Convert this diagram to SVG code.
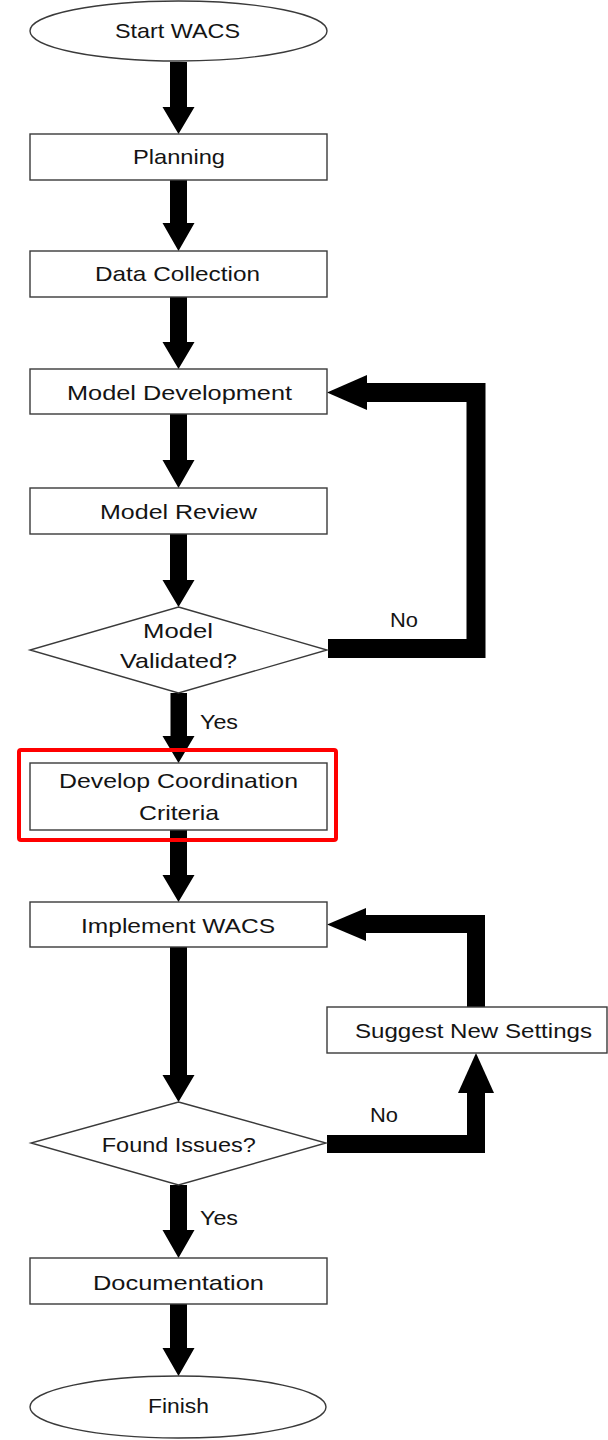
<svg xmlns="http://www.w3.org/2000/svg" width="608" height="1440" viewBox="0 0 608 1440">
<style>
.box{fill:#fff;stroke:#3a3a3a;stroke-width:1.4}
.t{font-family:"Liberation Sans",Arial,sans-serif;font-size:21px;fill:#141414;text-anchor:middle}
.l{font-family:"Liberation Sans",Arial,sans-serif;font-size:21px;fill:#141414}
.bar{fill:none;stroke:#000;stroke-linejoin:miter;stroke-linecap:butt}
.ah{fill:#000}
</style>
<rect width="608" height="1440" fill="#fff"/>
<g id="connectors">
<path class="ah" d="M170 62H187V107H194.5L178.5 134L162.5 107H170Z"/>
<path class="ah" d="M170 180H187V223H194.5L178.5 251L162.5 223H170Z"/>
<path class="ah" d="M170 297H187V342H194.5L178.5 369L162.5 342H170Z"/>
<path class="ah" d="M170 414H187V460H194.5L178.5 488L162.5 460H170Z"/>
<path class="ah" d="M170 534H187V580H194.5L178.5 607L162.5 580H170Z"/>
<path class="ah" d="M170.5 693H187V736H194.5L178.5 763L162.5 736H170.5Z"/>
<path class="ah" d="M170 830H187V875H194.5L178.5 902L162.5 875H170Z"/>
<path class="ah" d="M170 947H187V1075H194.5L178.5 1102L162.5 1075H170Z"/>
<path class="ah" d="M170 1185H187V1230H194.5L178.5 1258L162.5 1230H170Z"/>
<path class="ah" d="M170 1304H187V1348H194.5L178.5 1376L162.5 1348H170Z"/>
<path class="bar" stroke-width="19" d="M328 648.5H476V392.5H366"/>
<polygon class="ah" points="327,392.5 367,375 367,410"/>
<path class="bar" stroke-width="18" d="M327 1144H476V1092"/>
<polygon class="ah" points="476,1053 458,1093 494,1093"/>
<path class="bar" stroke-width="18" d="M476 1007V924H365"/>
<polygon class="ah" points="327,924.5 366,908 366,941"/>
<text class="l" x="390" y="627" textLength="28" lengthAdjust="spacingAndGlyphs">No</text>
<text class="l" x="200" y="729" textLength="38" lengthAdjust="spacingAndGlyphs">Yes</text>
<text class="l" x="370" y="1122" textLength="28" lengthAdjust="spacingAndGlyphs">No</text>
<text class="l" x="200" y="1225" textLength="38" lengthAdjust="spacingAndGlyphs">Yes</text>
</g>
<g id="start"><ellipse class="box" cx="178.5" cy="31" rx="148.5" ry="30"/><text class="t" x="177.5" y="38" textLength="125" lengthAdjust="spacingAndGlyphs">Start WACS</text></g>
<g id="planning"><rect class="box" x="30" y="134" width="297" height="46"/><text class="t" x="179" y="164" textLength="92" lengthAdjust="spacingAndGlyphs">Planning</text></g>
<g id="data-collection"><rect class="box" x="30" y="251" width="297" height="46"/><text class="t" x="177.5" y="281" textLength="165" lengthAdjust="spacingAndGlyphs">Data Collection</text></g>
<g id="model-development"><rect class="box" x="30" y="369" width="297" height="45"/><text class="t" x="179.5" y="400" textLength="225" lengthAdjust="spacingAndGlyphs">Model Development</text></g>
<g id="model-review"><rect class="box" x="30" y="488" width="297" height="46"/><text class="t" x="178.5" y="519" textLength="157" lengthAdjust="spacingAndGlyphs">Model Review</text></g>
<g id="model-validated"><polygon class="box" points="178.5,607 327,650 178.5,693 30,650"/><text class="t" x="178" y="638" textLength="70" lengthAdjust="spacingAndGlyphs">Model</text><text class="t" x="178.5" y="668" textLength="117" lengthAdjust="spacingAndGlyphs">Validated?</text></g>
<g id="develop-criteria"><rect class="box" x="30" y="763" width="297" height="67"/><rect x="19" y="750" width="317" height="90" rx="2" fill="none" stroke="#ff0000" stroke-width="4"/><text class="t" x="178.5" y="788" textLength="239" lengthAdjust="spacingAndGlyphs">Develop Coordination</text><text class="t" x="179" y="820" textLength="80" lengthAdjust="spacingAndGlyphs">Criteria</text></g>
<g id="implement"><rect class="box" x="30" y="902" width="297" height="45"/><text class="t" x="178" y="933" textLength="194" lengthAdjust="spacingAndGlyphs">Implement WACS</text></g>
<g id="suggest"><rect class="box" x="327" y="1007" width="280" height="46"/><text class="t" x="473.5" y="1038" textLength="237" lengthAdjust="spacingAndGlyphs">Suggest New Settings</text></g>
<g id="found-issues"><polygon class="box" points="178.5,1102 326,1143 178.5,1185 31,1143"/><text class="t" x="178.75" y="1152" textLength="154" lengthAdjust="spacingAndGlyphs">Found Issues?</text></g>
<g id="documentation"><rect class="box" x="30" y="1258" width="297" height="46"/><text class="t" x="178.5" y="1290" textLength="171" lengthAdjust="spacingAndGlyphs">Documentation</text></g>
<g id="finish"><ellipse class="box" cx="178" cy="1407" rx="148" ry="31"/><text class="t" x="178.5" y="1413" textLength="61" lengthAdjust="spacingAndGlyphs">Finish</text></g>
</svg>
